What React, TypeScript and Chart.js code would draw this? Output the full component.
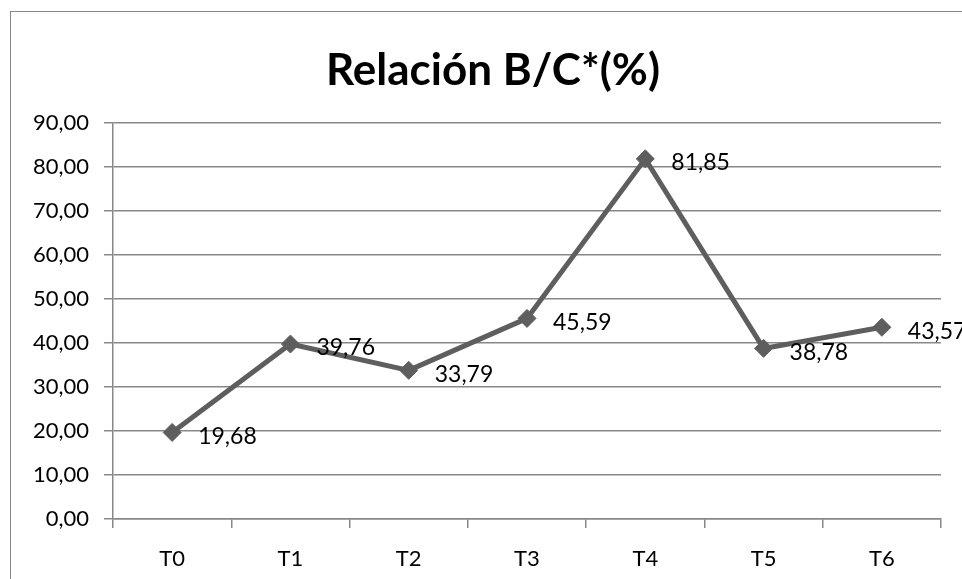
import React, { useEffect, useRef } from "react";
import { Chart, registerables } from "chart.js";

Chart.register(...registerables);

const categories = ["T0", "T1", "T2", "T3", "T4", "T5", "T6"];
const values = [19.68, 39.76, 33.79, 45.59, 81.85, 38.78, 43.57];
const titleText = "Relación B/C*(%)";
const yMin = 0;
const yMax = 90;
const yStep = 10;

const fmt = (v: number) => v.toFixed(2).replace(".", ",");
const FONT = "Lato, 'Open Sans', sans-serif";

const titlePlugin = {
  id: "customTitle",
  afterDraw(chart: any) {
    const ctx = chart.ctx;
    ctx.save();
    ctx.font = `bold 44px ${FONT}`;
    ctx.fillStyle = "#000";
    ctx.textAlign = "center";
    ctx.textBaseline = "alphabetic";
    ctx.fillText(titleText, 493, 85);
    ctx.restore();
  },
};

const labelPlugin = {
  id: "pointLabels",
  afterDatasetsDraw(chart: any) {
    const ctx = chart.ctx;
    const meta = chart.getDatasetMeta(0);
    ctx.save();
    ctx.font = `23px ${FONT}`;
    ctx.fillStyle = "#000";
    ctx.textAlign = "left";
    ctx.textBaseline = "middle";
    meta.data.forEach((pt: any, i: number) => {
      ctx.fillText(fmt(values[i]), pt.x + 26, pt.y + 4);
    });
    ctx.restore();
  },
};

export default function App() {
  const ref = useRef<HTMLCanvasElement | null>(null);
  useEffect(() => {
    if (!ref.current) return;
    const chart = new Chart(ref.current, {
      type: "line",
      data: {
        labels: categories,
        datasets: [
          {
            data: values,
            borderColor: "#5e5e5e",
            backgroundColor: "#5e5e5e",
            borderWidth: 5,
            pointStyle: "rectRot",
            pointRadius: 9,
            pointBackgroundColor: "#5e5e5e",
            pointBorderColor: "#5e5e5e",
            pointBorderWidth: 1,
            tension: 0,
          },
        ],
      },
      options: {
        responsive: false,
        animation: false,
        layout: { padding: { left: 0, right: 21, top: 123, bottom: 0 } },
        plugins: {
          legend: { display: false },
          title: { display: false },
          tooltip: { enabled: false },
        },
        scales: {
          x: {
            offset: true,
            grid: {
              offset: true,
              drawOnChartArea: false,
              drawTicks: true,
              tickLength: 9,
              color: "#888",
              lineWidth: 1.5,
            },
            border: { color: "#888", width: 1.5 },
            ticks: {
              color: "#000",
              font: { family: FONT, size: 22 },
              padding: 18,
              maxRotation: 0,
            },
            afterFit(scale: any) {
              scale.height = 60;
            },
          },
          y: {
            min: yMin,
            max: yMax,
            grid: {
              color: "#888",
              lineWidth: 1.5,
              drawTicks: true,
              tickLength: 9,
            },
            border: { color: "#888", width: 1.5 },
            ticks: {
              stepSize: yStep,
              color: "#000",
              font: { family: FONT, size: 22 },
              padding: 15,
              callback: (v: any) => fmt(Number(v)),
            },
            afterFit(scale: any) {
              scale.width = 113;
            },
          },
        },
      },
      plugins: [titlePlugin, labelPlugin],
    });
    return () => chart.destroy();
  }, []);
  return (
    <div style={{ position: "absolute", left: 0, top: 0, width: 962, height: 579, overflow: "hidden", background: "#fff" }}>
      <div
        style={{
          position: "absolute",
          left: 10,
          top: 11,
          width: 980,
          height: 600,
          border: "1.5px solid #888",
          boxSizing: "border-box",
        }}
      />
      <canvas ref={ref} width={962} height={579} style={{ position: "absolute", left: 0, top: 0 }} />
    </div>
  );
}
